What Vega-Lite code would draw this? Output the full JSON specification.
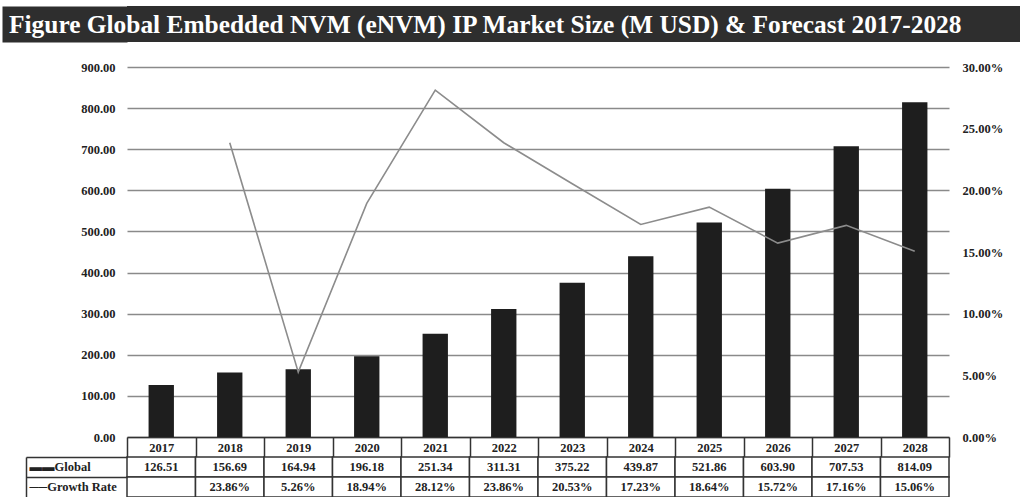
{
  "$schema": "https://vega.github.io/schema/vega-lite/v6.json",
  "padding": {"left": -16, "top": 6, "right": 0, "bottom": 0},
  "background": "white",
  "config": {
    "font": "Liberation Serif",
    "view": {"stroke": null},
    "axis": {"labelFont": "Liberation Serif", "labelFontWeight": "bold", "labelFontSize": 12.5, "labelColor": "#222", "title": null}
  },
  "datasets": {
    "market": [
      {"year": "2017", "global": 126.51, "growth": null},
      {"year": "2018", "global": 156.69, "growth": 0.2386},
      {"year": "2019", "global": 164.94, "growth": 0.0526},
      {"year": "2020", "global": 196.18, "growth": 0.1894},
      {"year": "2021", "global": 251.34, "growth": 0.2812},
      {"year": "2022", "global": 311.31, "growth": 0.2386},
      {"year": "2023", "global": 375.22, "growth": 0.2053},
      {"year": "2024", "global": 439.87, "growth": 0.1723},
      {"year": "2025", "global": 521.86, "growth": 0.1864},
      {"year": "2026", "global": 603.90, "growth": 0.1572},
      {"year": "2027", "global": 707.53, "growth": 0.1716},
      {"year": "2028", "global": 814.09, "growth": 0.1506}
    ],
    "banner": [{"t": "Figure Global Embedded NVM (eNVM) IP Market Size (M USD) & Forecast 2017-2028", "b": "banner"}]
  },
  "spacing": 19,
  "vconcat": [
    {
      "width": 893,
      "height": 36,
      "view": {"fill": "#2e2e2e", "stroke": null},
      "data": {"name": "banner"},
      "mark": {"type": "text", "color": "white", "font": "Liberation Serif", "fontWeight": "bold", "fontSize": 25.4, "align": "left", "baseline": "middle", "dx": -564.5, "dy": 1},
      "encoding": {
        "text": {"field": "t", "type": "nominal"},
        "y": {"field": "b", "type": "nominal", "scale": {"type": "point", "padding": 0.5},
          "axis": {"orient": "left", "domain": false, "labels": false, "ticks": true, "tickSize": 125, "tickWidth": 36, "tickColor": "#2e2e2e", "tickCap": "butt", "minExtent": 0}}
      }
    },
    {
      "bounds": "flush",
      "spacing": 20,
      "vconcat": [
        {
          "width": 822,
          "height": 370,
          "data": {"name": "market"},
          "encoding": {
            "x": {"field": "year", "type": "nominal", "scale": {"paddingInner": 0, "paddingOuter": 0},
              "axis": {"orient": "bottom", "labelAngle": 0, "domain": true, "domainColor": "#333", "domainWidth": 1.5, "ticks": true, "tickBand": "extent", "tickSize": 20, "tickWidth": 1.5, "tickColor": "#333", "labelPadding": -10, "labelBaseline": "middle", "labelFontSize": 12.5}}
          },
          "layer": [
            {
              "mark": {"type": "bar", "color": "#1e1e1e", "width": {"band": 0.37}},
              "encoding": {
                "y": {"field": "global", "type": "quantitative", "scale": {"domain": [0, 900]},
                  "axis": {"values": [0,100,200,300,400,500,600,700,800,900], "format": ".2f", "domain": false, "ticks": false, "labelPadding": 12, "grid": true, "gridColor": "#8a8a8a", "gridWidth": 1.5}}
              }
            },
            {
              "transform": [{"filter": "datum.growth != null"}],
              "mark": {"type": "line", "color": "#8c8c8c", "strokeWidth": 1.6},
              "encoding": {
                "y": {"field": "growth", "type": "quantitative", "scale": {"domain": [0, 0.3]},
                  "axis": {"orient": "right", "values": [0,0.05,0.1,0.15,0.2,0.25,0.3], "format": ".2%", "domain": false, "ticks": false, "labelPadding": 13, "grid": false}}
              }
            }
          ],
          "resolve": {"scale": {"y": "independent"}, "axis": {"y": "independent"}}
        },
        {
          "width": 822,
          "height": 40,
          "data": {"name": "market"},
          "encoding": {
            "x": {"field": "year", "type": "nominal", "axis": null, "scale": {"paddingInner": 0, "paddingOuter": 0}}
          },
          "layer": [
            {
              "mark": {"type": "rect", "fill": "white", "stroke": "#333", "strokeWidth": 1.5},
              "encoding": {"y": {"datum": "Global", "type": "nominal",
                "scale": {"domain": ["Global", "Growth Rate"], "paddingInner": 0, "paddingOuter": 0},
                "axis": {"orient": "left", "offset": 101, "domain": true, "domainColor": "#333", "domainWidth": 1.5, "ticks": true, "bandPosition": 0, "tickSize": -101, "tickWidth": 1.5, "tickColor": "#333",
                  "labelAlign": "left", "labelPadding": 98, "labelBaseline": "middle", "labelFontSize": 12.5,
                  "labelExpr": "datum.value === 'Global' ? '▬▬Global' : '──Growth Rate'"}}}
            },
            {
              "mark": {"type": "rect", "fill": "white", "stroke": "#333", "strokeWidth": 1.5},
              "encoding": {"y": {"datum": "Growth Rate", "type": "nominal"}}
            },
            {
              "mark": {"type": "text", "font": "Liberation Serif", "fontWeight": "bold", "fontSize": 12.5, "color": "#222"},
              "encoding": {"y": {"datum": "Global", "type": "nominal"}, "text": {"field": "global", "type": "quantitative", "format": ".2f"}}
            },
            {
              "transform": [{"filter": "datum.growth != null"}],
              "mark": {"type": "text", "font": "Liberation Serif", "fontWeight": "bold", "fontSize": 12.5, "color": "#222"},
              "encoding": {"y": {"datum": "Growth Rate", "type": "nominal"}, "text": {"field": "growth", "type": "quantitative", "format": ".2%"}}
            }
          ]
        }
      ]
    }
  ]
}
